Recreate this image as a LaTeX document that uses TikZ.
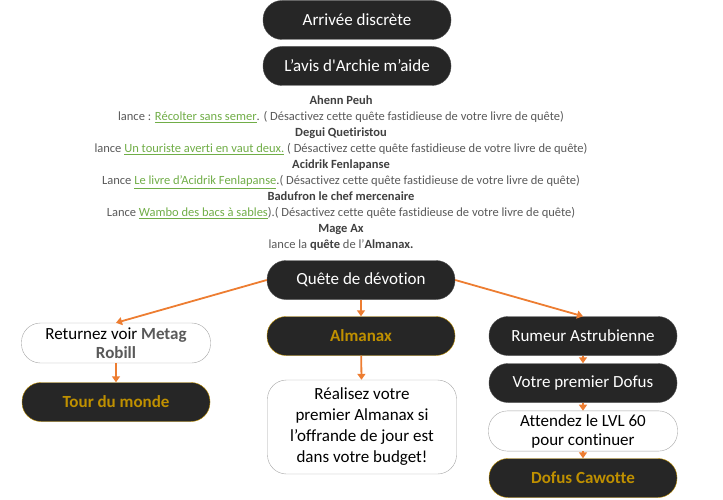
\documentclass[tikz,border=0pt]{standalone}
\usepackage{fontspec}
\setmainfont{Carlito}[Ligatures={NoCommon}]
\usepackage{xcolor}
\usetikzlibrary{arrows.meta}

\definecolor{boxdark}{HTML}{262626}
\definecolor{boxgold}{HTML}{BF9000}
\definecolor{linkgreen}{HTML}{70AD47}
\definecolor{floworange}{HTML}{ED7D31}
\definecolor{txtgray}{HTML}{595959}
\definecolor{namegray}{HTML}{404040}

\newcommand{\qlink}[1]{\textcolor{linkgreen}{\underline{#1}}}

\begin{document}
\begin{tikzpicture}[
		x=1pt, y=-1pt,
		darkbox/.style={rounded corners=19pt, fill=boxdark, draw=boxdark!80!white, text=white,
			minimum width=188pt, minimum height=39pt, font=\fontsize{17}{20}\selectfont},
		goldbox/.style={darkbox, draw=boxgold, text=boxgold, font=\fontsize{17}{20}\selectfont\bfseries},
		lightbox/.style={rounded corners=19pt, fill=white, draw=black!35, text=black,
			minimum width=189pt, minimum height=40pt, align=center, font=\fontsize{17}{19}\selectfont},
		flow/.style={draw=floworange, line width=1.8pt, -{Triangle[length=6pt,width=8pt]}}]
		\useasboundingbox (0,0) rectangle (723,500);

		\node[darkbox] (arrivee) at (357,20) {Arrivée discrète};
		\node[darkbox] (avis)    at (357,66) {L’avis d\textquotesingle Archie m’aide};

		\node[text=txtgray, align=center, font=\fontsize{12.5}{16}\selectfont] (pnj) at (341,173)
			{\textbf{\textcolor{namegray}{Ahenn Peuh}}\\
			 lance : \qlink{Récolter sans semer}. ( Désactivez cette quête fastidieuse de votre livre de quête)\\
			 \textbf{\textcolor{namegray}{Degui Quetiristou}}\\
			 lance \qlink{Un touriste averti en vaut deux.} ( Désactivez cette quête fastidieuse de votre livre de quête)\\
			 \textbf{\textcolor{namegray}{Acidrik Fenlapanse}}\\
			 Lance \qlink{Le livre d’Acidrik Fenlapanse}.( Désactivez cette quête fastidieuse de votre livre de quête)\\
			 \textbf{\textcolor{namegray}{Badufron le chef mercenaire}}\\
			 Lance \qlink{Wambo des bacs à sables}).( Désactivez cette quête fastidieuse de votre livre de quête)\\
			 \textbf{\textcolor{namegray}{Mage Ax}}\\
			 lance la \textbf{\textcolor{namegray}{quête}} de l’\textbf{\textcolor{namegray}{Almanax.}}};

		\node[darkbox] (devotion) at (361,280) {Quête de dévotion};

		% colonne de gauche
		\node[lightbox] (metag) at (116,343) {Returnez voir \textbf{\textcolor{txtgray}{Metag}}\\\textbf{\textcolor{txtgray}{Robill}}};
		\node[goldbox]  (tour)  at (116,402) {Tour du monde};

		% colonne du milieu
		\node[goldbox]  (almanax) at (361,336) {Almanax};
		\node[lightbox, minimum height=94pt, font=\fontsize{17}{21}\selectfont] (offrande) at (362,427)
			{Réalisez votre\\premier Almanax si\\l’offrande de jour est\\dans votre budget!};

		% colonne de droite
		\node[darkbox]  (rumeur)  at (583,336) {Rumeur Astrubienne};
		\node[darkbox]  (dofus)   at (583,383) {Votre premier Dofus};
		\node[lightbox] (lvl)     at (583,431) {Attendez le LVL 60\\pour continuer};
		\node[goldbox]  (cawotte) at (583,478) {Dofus Cawotte};

		\draw[flow] (devotion.west) -- (metag.north);
		\draw[flow] (devotion.east) -- (rumeur.north);
		\draw[flow] (devotion) -- (almanax);
		\draw[flow] (almanax) -- (offrande);
		\draw[flow] (metag) -- (tour);
		\draw[flow] (rumeur) -- (dofus);
		\draw[flow] (dofus) -- (lvl);
		\draw[flow] (lvl) -- (cawotte);
\end{tikzpicture}
\end{document}
